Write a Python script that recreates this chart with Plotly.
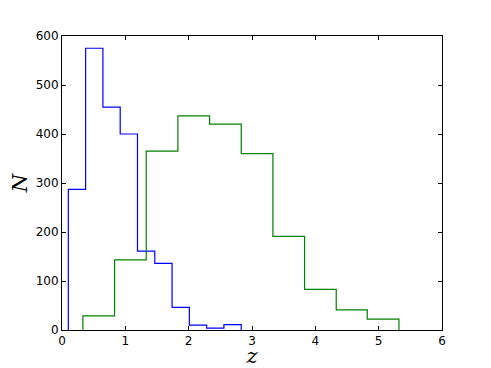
import plotly.graph_objects as go

# bin edges and counts (step histograms)
blue_edges = [0.10, 0.373, 0.646, 0.919, 1.192, 1.465, 1.738, 2.011, 2.284, 2.557, 2.83]
blue_counts = [287, 575, 455, 400, 161, 136, 46, 10, 4, 11]

green_edges = [0.33, 0.83, 1.33, 1.83, 2.33, 2.83, 3.33, 3.83, 4.33, 4.82, 5.32]
green_counts = [29, 143, 365, 437, 420, 360, 191, 83, 41, 22]

x_ticks = [0, 1, 2, 3, 4, 5, 6]
y_ticks = [0, 100, 200, 300, 400, 500, 600]


def step_xy(edges, counts):
    xs = [edges[0]] + list(edges)
    ys = [0] + list(counts) + [0]
    return xs, ys


fig = go.Figure()
for edges, counts, color in [(blue_edges, blue_counts, "#0000ff"),
                             (green_edges, green_counts, "#008000")]:
    xs, ys = step_xy(edges, counts)
    fig.add_trace(go.Scatter(x=xs, y=ys, mode="lines", line_shape="hv",
                             line=dict(color=color, width=1.2), showlegend=False))

axis_style = dict(showgrid=False, zeroline=False, showline=True, linecolor="black",
                  linewidth=1, mirror="ticks", ticks="inside", ticklen=4,
                  tickcolor="black", automargin=False,
                  tickfont=dict(family="DejaVu Sans", size=12, color="black"))

fig.update_xaxes(range=[0, 6], tickvals=x_ticks, **axis_style,
                 title=dict(text="<i>z</i>", font=dict(family="DejaVu Serif", size=21, color="black"),
                            standoff=4))
fig.update_yaxes(range=[0, 600], tickvals=y_ticks, **axis_style,
                 title=dict(text="<i>N</i>", font=dict(family="DejaVu Serif", size=21, color="black"),
                            standoff=2))
# page body adds ~8px offset, so the figure is sized to fit inside the window
fig.update_layout(width=483, height=360, margin=dict(l=54, r=49, t=28, b=38, autoexpand=False),
                  plot_bgcolor="white", paper_bgcolor="white")

fig.write_html("out.html")
